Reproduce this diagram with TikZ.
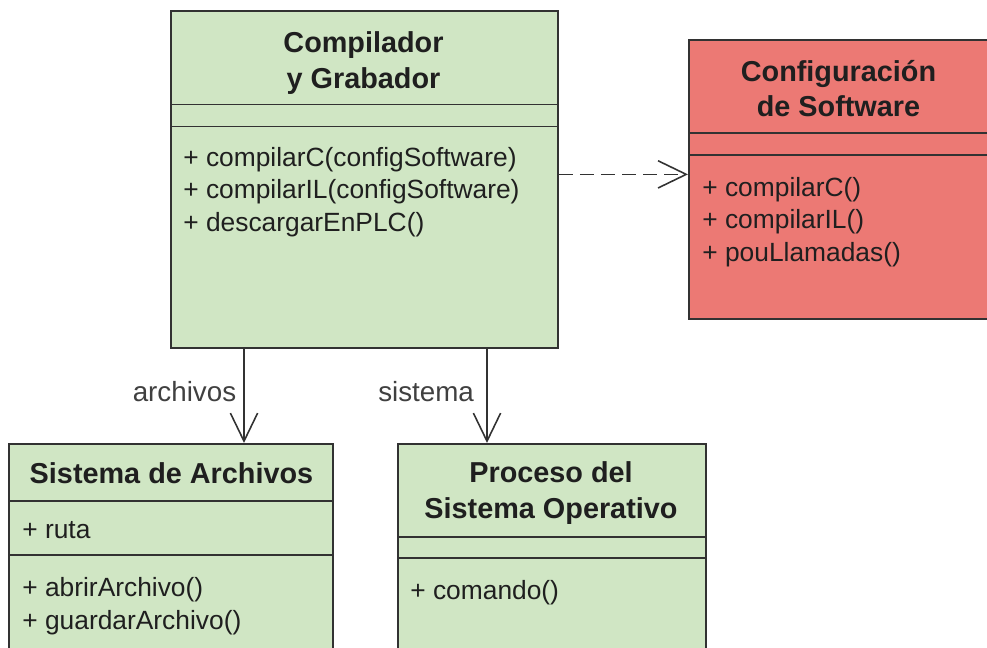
\documentclass[tikz,border=0pt]{standalone}
\usepackage{fontspec}
\setmainfont{Liberation Sans}
\definecolor{classgreen}{RGB}{208,230,196}
\definecolor{classred}{RGB}{236,121,116}
\definecolor{linegray}{RGB}{50,50,50}
\usetikzlibrary{arrows.meta,positioning,calc}

\begin{document}
\begin{tikzpicture}[
    classbox/.style={draw=linegray,line width=1pt,inner sep=0pt,anchor=north west},
    classtitle/.style={font=\fontsize{16.4}{20.3}\selectfont\bfseries,align=center,text=black!88},
    members/.style={font=\fontsize{15}{18.5}\selectfont,align=left,anchor=west,inner sep=0pt,text=black!88},
    rolelabel/.style={font=\fontsize{15.8}{18}\selectfont,text=black!75,inner sep=0pt},
    assoc/.style={-{Straight Barb[length=16pt,width=15.5pt]},line width=0.9pt,draw=linegray},
    depend/.style={assoc,dash pattern=on 8pt off 4pt}]

  \useasboundingbox (0,0) rectangle (19.74,12.96);
  \clip (0,0) rectangle (19.74,12.96);

  % Compilador y Grabador
  \node[classbox,fill=classgreen,minimum width=7.74cm,minimum height=6.74cm]
    (compilador) at (3.40,12.76) {};
  \draw[linegray,line width=1pt] (compilador.west |- 0,10.87) -- (compilador.east |- 0,10.87);
  \draw[linegray,line width=1pt] (compilador.west |- 0,10.43) -- (compilador.east |- 0,10.43);
  \node[classtitle] (compiladorTitle) at (7.27,11.70) {Compilador\\y Grabador};
  \node[members] (compiladorOps) at (3.66,9.12)
    {+ compilarC(configSoftware)\\+ compilarIL(configSoftware)\\+ descargarEnPLC()};

  % Configuracion de Software
  \node[classbox,fill=classred,minimum width=6.04cm,minimum height=5.58cm]
    (config) at (13.76,12.18) {};
  \draw[linegray,line width=1pt] (config.west |- 0,10.30) -- (config.east |- 0,10.30);
  \draw[linegray,line width=1pt] (config.west |- 0,9.86) -- (config.east |- 0,9.86);
  \node[classtitle] (configTitle) at (16.77,11.19) {Configuración\\de Software};
  \node[members] (configOps) at (14.04,8.52)
    {+ compilarC()\\+ compilarIL()\\+ pouLlamadas()};

  % Sistema de Archivos
  \node[classbox,fill=classgreen,minimum width=6.48cm,minimum height=4.5cm]
    (archivos) at (0.16,4.10) {};
  \draw[linegray,line width=1pt] (archivos.west |- 0,2.94) -- (archivos.east |- 0,2.94);
  \draw[linegray,line width=1pt] (archivos.west |- 0,1.86) -- (archivos.east |- 0,1.86);
  \node[classtitle] (archivosTitle) at (3.43,3.50) {Sistema de Archivos};
  \node[members] (archivosAttr) at (0.44,2.36) {+ ruta};
  \node[members,font=\fontsize{15}{18.8}\selectfont] (archivosOps) at (0.44,0.83)
    {+ abrirArchivo()\\+ guardarArchivo()};

  % Proceso del Sistema Operativo
  \node[classbox,fill=classgreen,minimum width=6.16cm,minimum height=4.5cm]
    (proceso) at (7.94,4.10) {};
  \draw[linegray,line width=1pt] (proceso.west |- 0,2.22) -- (proceso.east |- 0,2.22);
  \draw[linegray,line width=1pt] (proceso.west |- 0,1.80) -- (proceso.east |- 0,1.80);
  \node[classtitle] (procesoTitle) at (11.02,3.10) {Proceso del\\Sistema Operativo};
  \node[members] (procesoOps) at (8.20,1.10) {+ comando()};

  % relations
  \draw[depend] ([yshift=0.1cm]compilador.east) -- ([yshift=0.1cm]compilador.east -| config.west);
  \draw[assoc] ([xshift=1.48cm]compilador.south west) -- ([xshift=1.48cm]compilador.south west |- archivos.north)
    node[rolelabel,pos=0.45,left=4pt] (archivosRole) {archivos};
  \draw[assoc] ([xshift=6.34cm]compilador.south west) -- ([xshift=6.34cm]compilador.south west |- proceso.north)
    node[rolelabel,pos=0.45,left=7pt] (procesoRole) {sistema};
\end{tikzpicture}
\end{document}
